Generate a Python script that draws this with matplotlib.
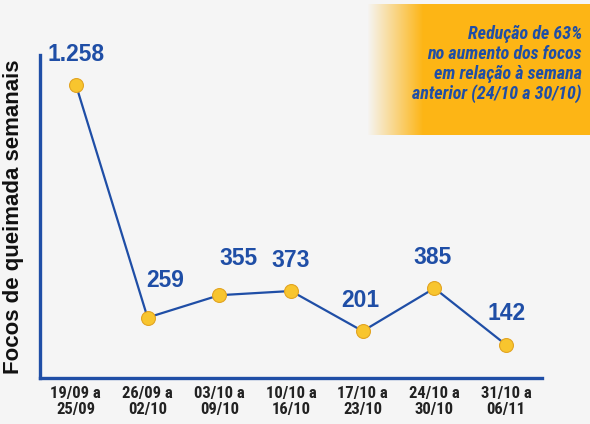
import matplotlib
matplotlib.use("Agg")
import matplotlib.pyplot as plt
import numpy as np

NARROW = ["Roboto Condensed", "Liberation Sans", "DejaVu Sans"]
SANS = ["Liberation Sans", "DejaVu Sans"]

categories = ["19/09 a\n25/09", "26/09 a\n02/10", "03/10 a\n09/10", "10/10 a\n16/10",
              "17/10 a\n23/10", "24/10 a\n30/10", "31/10 a\n06/11"]
values = [1258, 259, 355, 373, 201, 385, 142]
value_labels = ["1.258", "259", "355", "373", "201", "385", "142"]
label_offsets = [(0, 21.6), (13, 26.6), (13.7, 26.6), (0, 22.3), (-2, 22.3), (-1.5, 22.3), (0, 22.3)]

BG = "#f5f5f5"
BLUE = "#1f4ea6"
fig = plt.figure(figsize=(5.9, 4.24), dpi=100, facecolor=BG)
ax = fig.add_axes([40/590, 46/424, 502/590, 323/424], facecolor=BG)

x = np.arange(len(values))
ax.plot(x, values, color=BLUE, lw=1.6, zorder=2)
ax.plot(x, values, ls="none", marker="o", ms=10, mfc="#f8c52e", mec="#e2a422", mew=0.8, zorder=3)
for xi, v, lab, off in zip(x, values, value_labels, label_offsets):
    ax.annotate(lab, (xi, v), xytext=off, textcoords="offset points", ha="center", va="center",
                fontsize=16.5, fontweight="bold", color=BLUE, family=SANS)

ax.set_xlim(-0.5, 6.5)
ax.set_ylim(0, 1385)
for s in ["top", "right"]:
    ax.spines[s].set_visible(False)
for s in ["left", "bottom"]:
    ax.spines[s].set_color(BLUE)
    ax.spines[s].set_linewidth(2.4)
ax.set_yticks([])
ax.set_xticks(x)
ax.set_xticklabels(categories, fontsize=12, fontweight="bold", color="#222222",
                   family=NARROW, linespacing=1.05)
ax.tick_params(axis="x", length=0, pad=6)
ax.set_ylabel("Focos de queimada semanais", fontsize=16, fontweight="bold",
              color="#111111", family=SANS)
ax.yaxis.set_label_coords(-(40 - 24) / 502, 0.5)

# gradient box
bx = fig.add_axes([367/590, (424-135)/424, 223/590, 131/424])
bx.set_axis_off()
w = 223
cols = np.linspace(0, 1, w)
t = np.clip(cols / (56/223), 0, 1)
orange = np.array([253, 181, 21]) / 255
white = np.array([245, 245, 245]) / 255
img = white[None, :] * (1 - t[:, None]) + orange[None, :] * t[:, None]
bx.imshow(img[None, :, :], aspect="auto", extent=[0, 1, 0, 1])
bx.set_xlim(0, 1)
bx.set_ylim(0, 1)
fig.text(582/590, 1 - 25/424,
         "Redução de 63%\nno aumento dos focos\nem relação à semana\nanterior (24/10 a 30/10)",
         ha="right", va="top", fontsize=13, fontweight="bold", style="italic",
         color=BLUE, family=NARROW, linespacing=1.13)

fig.savefig("out.png", dpi=100, facecolor=BG)
